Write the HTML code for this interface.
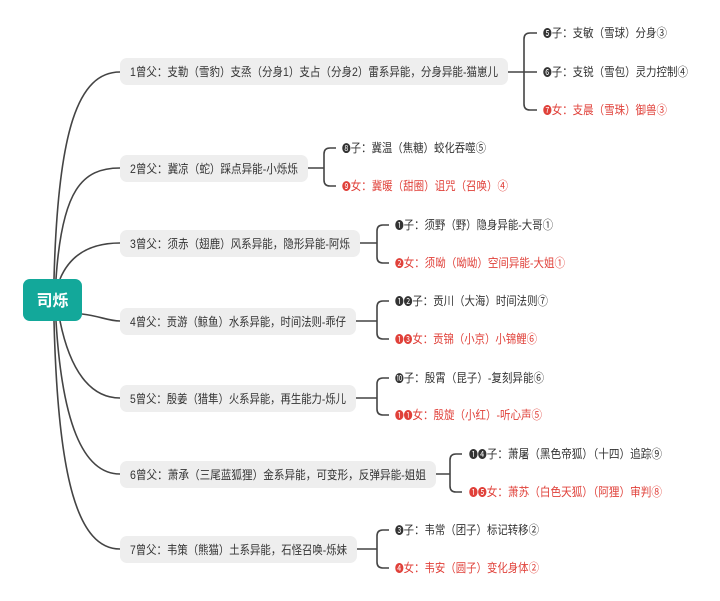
<!DOCTYPE html>
<html><head><meta charset="utf-8"><style>
body{margin:0;width:720px;height:601px;background:#fff;overflow:hidden;}
svg{position:absolute;left:0;top:0;font-family:"Liberation Sans","Noto Sans CJK SC",sans-serif;}
.t{font-size:12px;fill:#333;}
.r{fill:#e0413a;}
.m{font-size:10px;}
</style></head><body>
<svg width="720" height="601">
<g fill="none" stroke="#444" stroke-width="1.6">
<path d="M54,279 C58,130 78,72 120,72"/>
<path d="M56,279 C62,190 82,168 120,168"/>
<path d="M60,279 C70,255 90,243 120,243"/>
<path d="M82,314 C100,316 108,321 120,321"/>
<path d="M60,321 C70,370 90,398 120,398"/>
<path d="M56,321 C62,420 82,474 120,474"/>
<path d="M54,321 C58,480 78,549 120,549"/>
<path d="M508,72 H524 M537,33 H530 Q524,33 524,39 V104 Q524,110 530,110 H537 M524,72 H537"/>
<path d="M308,168 H324 M336,148 H330 Q324,148 324,154 V180 Q324,186 330,186 H336"/>
<path d="M360,243 H377 M389,225 H383 Q377,225 377,231 V257 Q377,263 383,263 H389"/>
<path d="M356,321 H377 M389,301 H383 Q377,301 377,307 V333 Q377,339 383,339 H389"/>
<path d="M356,398 H377 M389,378 H383 Q377,378 377,384 V409 Q377,415 383,415 H389"/>
<path d="M436,474 H450 M462,454 H456 Q450,454 450,460 V486 Q450,492 456,492 H462"/>
<path d="M357,549 H377 M389,530 H383 Q377,530 377,536 V562 Q377,568 383,568 H389"/>
</g>
<rect x="23" y="279" width="59" height="42" rx="7" fill="#13a89a"/>
<text x="52.5" y="306" text-anchor="middle" font-size="16" font-weight="bold" fill="#fff">司烁</text>
<g fill="#eeeeee">
<rect x="120" y="58" width="388" height="27" rx="7"/>
<rect x="120" y="155" width="188" height="27" rx="7"/>
<rect x="120" y="230" width="240" height="27" rx="7"/>
<rect x="120" y="308" width="236" height="27" rx="7"/>
<rect x="120" y="385" width="236" height="27" rx="7"/>
<rect x="120" y="461" width="316" height="27" rx="7"/>
<rect x="120" y="536" width="237" height="27" rx="7"/>
</g>
<g class="t">
<text x="130" y="76" textLength="368" lengthAdjust="spacingAndGlyphs">1曾父：支勒（雪豹）支烝（分身1）支占（分身2）雷系异能，分身异能-猫崽儿</text>
<text x="130" y="173" textLength="168" lengthAdjust="spacingAndGlyphs">2曾父：冀凉（蛇）踩点异能-小烁烁</text>
<text x="130" y="248" textLength="220" lengthAdjust="spacingAndGlyphs">3曾父：须赤（翅鹿）风系异能，隐形异能-阿烁</text>
<text x="130" y="326" textLength="216" lengthAdjust="spacingAndGlyphs">4曾父：贡游（鲸鱼）水系异能，时间法则-乖仔</text>
<text x="130" y="403" textLength="216" lengthAdjust="spacingAndGlyphs">5曾父：殷姜（猎隼）火系异能，再生能力-烁儿</text>
<text x="130" y="479" textLength="296" lengthAdjust="spacingAndGlyphs">6曾父：萧承（三尾蓝狐狸）金系异能，可变形，反弹异能-姐姐</text>
<text x="130" y="554" textLength="217" lengthAdjust="spacingAndGlyphs">7曾父：韦策（熊猫）土系异能，石怪召唤-烁妹</text>

<text x="543" y="37" textLength="124" lengthAdjust="spacingAndGlyphs"><tspan class="m">❺</tspan>子：支敏（雪球）分身③</text>
<text x="543" y="76" textLength="145" lengthAdjust="spacingAndGlyphs"><tspan class="m">❻</tspan>子：支锐（雪包）灵力控制④</text>
<text class="r" x="543" y="114" textLength="124" lengthAdjust="spacingAndGlyphs"><tspan class="m">❼</tspan>女：支晨（雪珠）御兽③</text>
<text x="342" y="152" textLength="144" lengthAdjust="spacingAndGlyphs"><tspan class="m">❽</tspan>子：冀温（焦糖）蛟化吞噬⑤</text>
<text class="r" x="342" y="190" textLength="166" lengthAdjust="spacingAndGlyphs"><tspan class="m">❾</tspan>女：冀暖（甜圈）诅咒（召唤）④</text>
<text x="395" y="229" textLength="158" lengthAdjust="spacingAndGlyphs"><tspan class="m">❶</tspan>子：须野（野）隐身异能-大哥①</text>
<text class="r" x="395" y="267" textLength="170" lengthAdjust="spacingAndGlyphs"><tspan class="m">❷</tspan>女：须呦（呦呦）空间异能-大姐①</text>
<text x="395" y="305" textLength="153" lengthAdjust="spacingAndGlyphs"><tspan class="m">❶❷</tspan>子：贡川（大海）时间法则⑦</text>
<text class="r" x="395" y="343" textLength="142" lengthAdjust="spacingAndGlyphs"><tspan class="m">❶❸</tspan>女：贡锦（小京）小锦鲤⑥</text>
<text x="395" y="382" textLength="149" lengthAdjust="spacingAndGlyphs"><tspan class="m">❿</tspan>子：殷霄（昆子）-复刻异能⑥</text>
<text class="r" x="395" y="419" textLength="147" lengthAdjust="spacingAndGlyphs"><tspan class="m">❶❶</tspan>女：殷旋（小红）-听心声⑤</text>
<text x="469" y="458" textLength="193" lengthAdjust="spacingAndGlyphs"><tspan class="m">❶❹</tspan>子：萧屠（黑色帝狐）（十四）追踪⑨</text>
<text class="r" x="469" y="496" textLength="193" lengthAdjust="spacingAndGlyphs"><tspan class="m">❶❺</tspan>女：萧苏（白色天狐）（阿狸）审判⑧</text>
<text x="395" y="534" textLength="144" lengthAdjust="spacingAndGlyphs"><tspan class="m">❸</tspan>子：韦常（团子）标记转移②</text>
<text class="r" x="395" y="572" textLength="144" lengthAdjust="spacingAndGlyphs"><tspan class="m">❹</tspan>女：韦安（圆子）变化身体②</text>
</g>
</svg>
</body></html>
